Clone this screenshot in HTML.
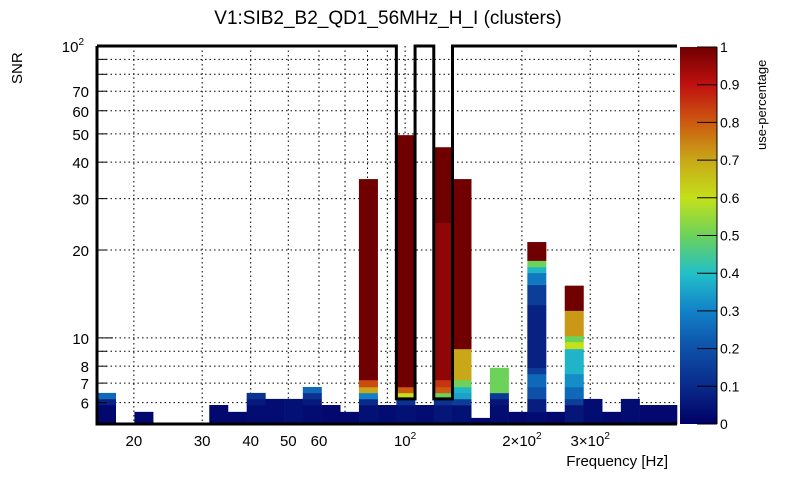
<!DOCTYPE html>
<html><head><meta charset="utf-8"><style>
body{margin:0;background:#fff;}
svg text{font-family:"Liberation Sans",Arial,sans-serif;fill:#000;}
</style></head><body>
<svg id="chart" width="805" height="472" viewBox="0 0 805 472" xmlns="http://www.w3.org/2000/svg">
<defs>
<linearGradient id="cbar" x1="0" y1="1" x2="0" y2="0">
<stop offset="0" stop-color="#000066"/><stop offset="0.1" stop-color="#0a2a8a"/><stop offset="0.2" stop-color="#0d50a8"/><stop offset="0.3" stop-color="#1282c8"/><stop offset="0.4" stop-color="#22c0c8"/><stop offset="0.5" stop-color="#6cd25a"/><stop offset="0.6" stop-color="#c4e01a"/><stop offset="0.7" stop-color="#c8a818"/><stop offset="0.8" stop-color="#cc5a10"/><stop offset="0.9" stop-color="#c01010"/><stop offset="1" stop-color="#700000"/>
</linearGradient>
</defs>
<text x="388" y="24" font-size="19" text-anchor="middle">V1:SIB2_B2_QD1_56MHz_H_I (clusters)</text>
<text transform="translate(22,84) rotate(-90)" font-size="15">SNR</text>
<text x="668" y="466" font-size="15" text-anchor="end">Frequency [Hz]</text>
<g id="grid"></g>
<g id="cells"></g>
<g id="axes"></g>
<rect x="680" y="47" width="37" height="377" fill="url(#cbar)"/>
<g id="cbaxis"></g>
<text transform="translate(766,150) rotate(-90)" font-size="13">use-percentage</text>
</svg>
<script>
const nBins = 31;
const xMin = 16.07, xMax = 502;
const yMin = 5.07, yMax = 100;
// per-bin stacked segments: [lowSNR, highSNR, use-percentage]
const binSegments = [
 [[5.07,5.89,0.02],[5.89,6.18,0.08],[6.18,6.48,0.25]],
 [],
 [[5.07,5.58,0.02]],
 [],[],[],
 [[5.07,5.89,0.02]],
 [[5.07,5.58,0.02]],
 [[5.07,5.89,0.03],[5.89,6.18,0.06],[6.18,6.48,0.12]],
 [[5.07,6.18,0.03]],
 [[5.07,6.18,0.04]],
 [[5.07,5.89,0.03],[5.89,6.18,0.06],[6.18,6.48,0.12],[6.48,6.79,0.25]],
 [[5.07,5.89,0.02]],
 [[5.07,5.58,0.02]],
 [[5.07,5.89,0.04],[5.89,6.18,0.1],[6.18,6.48,0.3],[6.48,6.79,0.7],[6.79,7.18,0.82],[7.18,35,1]],
 [[5.07,5.89,0.03]],
 [[5.07,5.89,0.04],[5.89,6.18,0.12],[6.18,6.48,0.6],[6.48,6.79,0.8],[6.79,49.5,1]],
 [[5.07,5.89,0.03]],
 [[5.07,5.89,0.05],[5.89,6.18,0.12],[6.18,6.48,0.5],[6.48,6.79,0.8],[6.79,7.18,0.85],[7.18,24.8,0.96],[24.8,45,1]],
 [[5.07,5.89,0.04],[5.89,6.18,0.15],[6.18,6.48,0.35],[6.48,6.79,0.38],[6.79,7.18,0.5],[7.18,9.17,0.7],[9.17,35,1]],
 [[5.07,5.32,0.02]],
 [[5.07,5.89,0.03],[5.89,6.18,0.05],[6.18,6.48,0.14],[6.48,7.9,0.5]],
 [[5.07,5.58,0.02]],
 [[5.07,5.58,0.03],[5.58,6.18,0.07],[6.18,6.79,0.2],[6.79,7.53,0.25],[7.53,7.9,0.15],[7.9,12.97,0.08],[12.97,15.2,0.15],[15.2,16.7,0.28],[16.7,17.5,0.38],[17.5,18.4,0.5],[18.4,21.3,1]],
 [[5.07,5.58,0.02]],
 [[5.07,5.89,0.05],[5.89,6.18,0.15],[6.18,6.79,0.25],[6.79,7.53,0.32],[7.53,9.17,0.38],[9.17,9.69,0.6],[9.69,10.16,0.5],[10.16,12.4,0.72],[12.4,15.1,1]],
 [[5.07,6.18,0.03]],
 [[5.07,5.58,0.02]],
 [[5.07,6.18,0.03]],
 [[5.07,5.89,0.02]],
 [[5.07,5.89,0.02]]
];
// outline level per bin (threshold curve)
const outlineLevels = [100,100,100,100,100,100,100,100,100,100,100,100,100,100,100,100,6.18,100,6.18,100,100,100,100,100,100,100,100,100,100,100,100];
const yTickLabels = [["10",100],["70",70],["60",60],["50",50],["40",40],["30",30],["20",20],["10",10],["8",8],["7",7],["6",6]];
const yGrid = [6,7,8,9,10,20,30,40,50,60,70,80,90];
const xGrid = [20,30,40,50,60,70,80,90,100,200,300,400];
const xTickLabels = [["20",20],["30",30],["40",40],["50",50],["60",60],["10",100],["2×10",200],["3×10",300]];
const cbTicks = [0,0.1,0.2,0.3,0.4,0.5,0.6,0.7,0.8,0.9,1];

const L=97,R=677,T=46,B=424;
const xs = f => L + (R-L)*Math.log10(f/xMin)/Math.log10(xMax/xMin);
const ys = v => B - (B-T)*Math.log10(v/yMin)/Math.log10(yMax/yMin);
const binEdge = i => xMin*Math.pow(xMax/xMin, i/nBins);
const stops=[[0,[0,0,102]],[0.1,[10,42,138]],[0.2,[13,80,168]],[0.3,[18,130,200]],[0.4,[34,192,200]],[0.5,[108,210,90]],[0.6,[196,224,26]],[0.7,[200,168,24]],[0.8,[204,90,16]],[0.9,[192,16,16]],[1,[112,0,0]]];
function col(v){for(let k=1;k<stops.length;k++){if(v<=stops[k][0]){const a=stops[k-1],b=stops[k],t=(v-a[0])/(b[0]-a[0]);return 'rgb('+a[1].map((c,j)=>Math.round(c+(b[1][j]-c)*t)).join(',')+')';}}return 'rgb(112,0,0)';}
const NS='http://www.w3.org/2000/svg';
function mk(tag,attrs,parent){const e=document.createElementNS(NS,tag);for(const k in attrs)e.setAttribute(k,attrs[k]);parent.appendChild(e);return e;}
const grid=document.getElementById('grid'),cells=document.getElementById('cells'),axes=document.getElementById('axes'),cb=document.getElementById('cbaxis');
yGrid.forEach(v=>{const y=ys(v);const l=mk('line',{x1:L,x2:R,y1:y,y2:y,stroke:'#000','stroke-width':1,'stroke-dasharray':'1.5,3'},grid);

});
xGrid.forEach(f=>{const x=xs(f);const l=mk('line',{x1:x,x2:x,y1:T,y2:B,stroke:'#000','stroke-width':1,'stroke-dasharray':'1.5,3'},grid);

});
binSegments.forEach((segs,i)=>{const x0=xs(binEdge(i)),x1=xs(binEdge(i+1));segs.forEach(s=>{const r=mk('rect',{x:x0,width:x1-x0+0.3,y:ys(s[1]),height:ys(s[0])-ys(s[1])+0.3,fill:col(s[2])},cells);

});});
let d='M'+L+' '+ys(outlineLevels[0]);
outlineLevels.forEach((v,i)=>{const y=ys(v);d+=' L'+xs(binEdge(i))+' '+y+' L'+xs(binEdge(i+1))+' '+y;});
const ol=mk('path',{d:d,fill:'none',stroke:'#000','stroke-width':3},axes);


const fr=mk('path',{d:'M'+L+' '+T+' L'+L+' '+B+' L'+R+' '+B,fill:'none',stroke:'#000','stroke-width':3},axes);


yGrid.forEach(v=>{const y=ys(v);const major=(v===10||v===100);mk('line',{x1:L,x2:L+(major?16:10),y1:y,y2:y,stroke:'#000','stroke-width':1},axes);});
yTickLabels.forEach(t=>{const y=ys(t[1]);const tx=mk('text',{x:t[1]===100?84:89,y:y+6,'font-size':15,'text-anchor':'end'},axes);tx.textContent=t[0];


if(t[1]===100){const s=mk('tspan',{dy:-7,'font-size':10},tx);s.textContent='2';}});
xTickLabels.forEach(t=>{const x=xs(t[1]);const tx=mk('text',{x:x,y:446,'font-size':15,'text-anchor':'middle'},axes);tx.textContent=t[0];


if(t[1]>=100){const s=mk('tspan',{dy:-7,'font-size':10},tx);s.textContent='2';}});
cbTicks.forEach(v=>{const y=424-377*v;mk('line',{x1:697,x2:717,y1:y,y2:y,stroke:'#000','stroke-width':1},cb);const tx=mk('text',{x:720,y:y+5,'font-size':14},cb);tx.textContent=String(v);

});
mk('line',{x1:717,x2:717,y1:47,y2:424,stroke:'#000','stroke-width':1},cb);
</script>
</body></html>
